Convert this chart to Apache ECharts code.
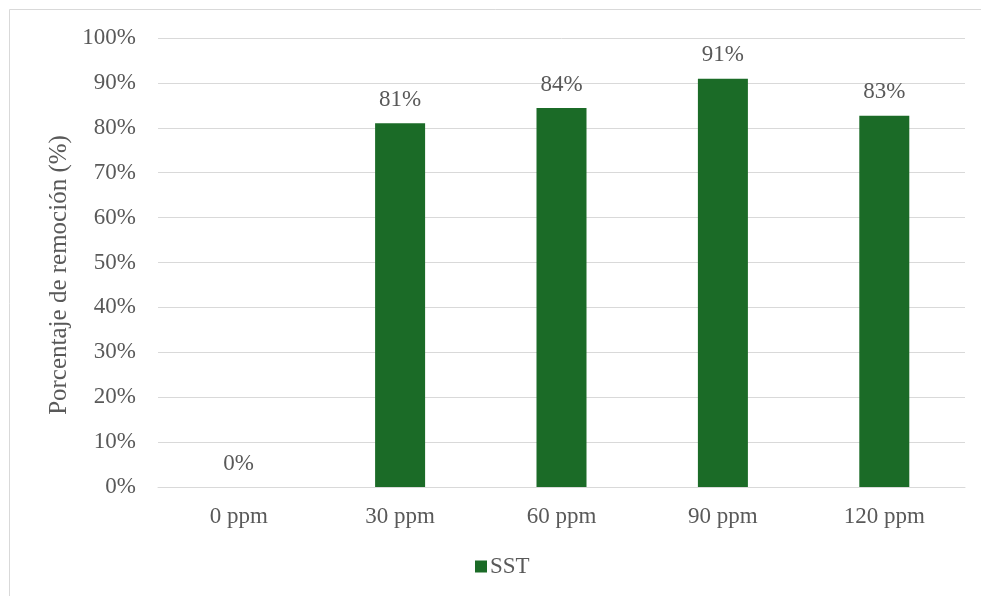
<!DOCTYPE html>
<html>
<head>
<meta charset="utf-8">
<script src="https://cdn.jsdelivr.net/npm/echarts@6/dist/echarts.min.js"></script>
<style>
  html, body { margin: 0; padding: 0; background: #fff; }
  #chart { width: 981px; height: 596px; }
</style>
</head>
<body>
<div id="chart"></div>
<script>
// Doses applied and removal percentages (SST)
const categories = ['0 ppm', '30 ppm', '60 ppm', '90 ppm', '120 ppm'];
const sstRemoval = [0, 0.81, 0.844, 0.909, 0.827];
const yTicks = [0, 0.1, 0.2, 0.3, 0.4, 0.5, 0.6, 0.7, 0.8, 0.9, 1.0];

const FONT = '"Liberation Serif", "Times New Roman", serif';
const TEXT = '#595959';
const GREEN = '#1b6b27';
const FS = 23;

const chart = echarts.init(document.getElementById('chart'), null, { renderer: 'canvas' });

chart.setOption({
  animation: false,
  backgroundColor: '#ffffff',
  graphic: [{
    type: 'rect',
    shape: { x: 9.5, y: 9.5, width: 990, height: 600 },
    style: { fill: 'none', stroke: '#d9d9d9', lineWidth: 1 },
    silent: true
  }],
  grid: { left: 158, right: 16, top: 38, bottom: 109, containLabel: false },
  legend: {
    bottom: 13,
    left: 470,
    itemWidth: 12,
    itemHeight: 12,
    itemGap: 10,
    icon: 'rect',
    textStyle: { fontFamily: FONT, fontSize: FS, color: TEXT, padding: [0, 0, 0, -2] },
    data: ['SST']
  },
  xAxis: {
    type: 'category',
    data: categories,
    axisLine: { lineStyle: { color: '#d9d9d9', width: 1 } },
    axisTick: { show: false },
    axisLabel: { fontFamily: FONT, fontSize: FS, color: TEXT, margin: 18 }
  },
  yAxis: {
    type: 'value',
    min: yTicks[0],
    max: yTicks[yTicks.length - 1],
    interval: 0.1,
    name: 'Porcentaje de remoción (%)',
    nameLocation: 'middle',
    nameGap: 81,
    nameTextStyle: { fontFamily: FONT, fontSize: 25, color: TEXT, padding: [0, 25, 0, 0] },
    axisLine: { show: false },
    axisTick: { show: false },
    splitLine: { lineStyle: { color: '#d9d9d9', width: 1 } },
    axisLabel: {
      fontFamily: FONT, fontSize: FS, color: TEXT, margin: 22,
      formatter: v => Math.round(v * 100) + '%'
    }
  },
  series: [{
    name: 'SST',
    type: 'bar',
    data: sstRemoval,
    barWidth: 50,
    itemStyle: { color: GREEN },
    label: {
      show: true,
      position: 'top',
      distance: 12,
      fontFamily: FONT,
      fontSize: FS,
      color: TEXT,
      formatter: p => Math.round(p.value * 100) + '%'
    }
  }]
});
</script>
</body>
</html>
